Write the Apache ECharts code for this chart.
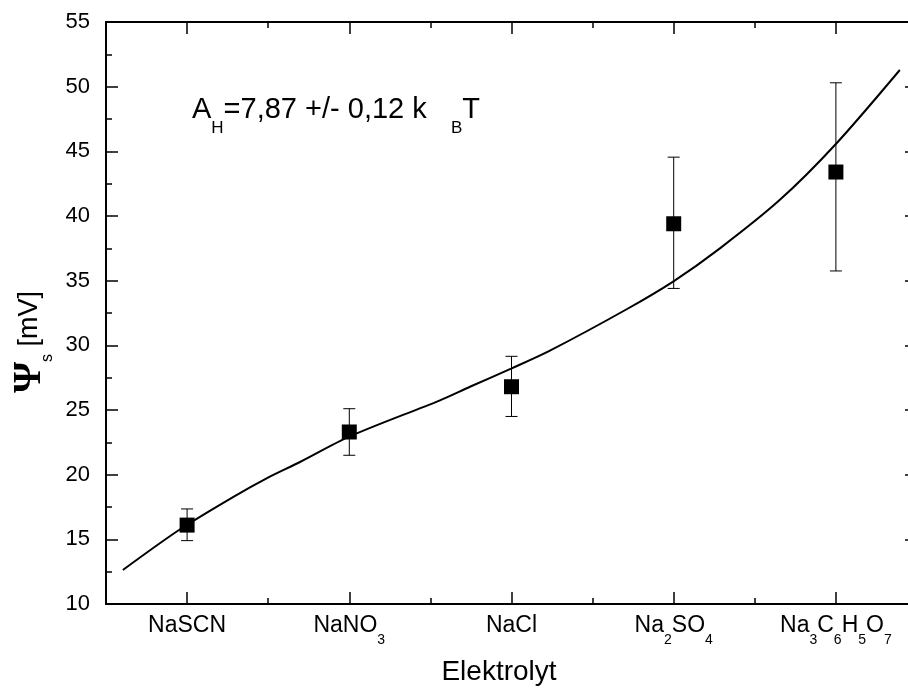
<!DOCTYPE html>
<html>
<head>
<meta charset="utf-8">
<script src="https://cdn.jsdelivr.net/npm/echarts@6/dist/echarts.min.js"></script>
<style>
html,body{margin:0;padding:0;background:#fff;overflow:hidden;width:908px;height:689px;}
#chart{width:920px;height:689px;}
</style>
</head>
<body>
<div id="chart"></div>
<script>
// ---- data ----
var categories = ['NaSCN', 'NaNO3', 'NaCl', 'Na2SO4', 'Na3C6H5O7'];
var categoryLabels = ['{n|NaSCN}', '{n|NaNO}{s|3}', '{n|NaCl}', '{n|Na}{s|2}{n|SO}{s|4}', '{n|Na}{s|3}{n|C}{s|6}{n|H}{s|5}{n|O}{s|7}'];
var categoryPos = [1, 2, 3, 4, 5];
var psiValues = [16.1, 23.3, 26.8, 39.4, 43.4];
var errLow = [14.9, 21.5, 24.5, 34.4, 35.75];
var errHigh = [17.35, 25.1, 29.15, 44.55, 50.3];
var fitX = [0.604, 0.957, 1.283, 1.493, 1.696, 2.0, 2.559, 2.744, 3.001, 3.237, 3.710, 4.001, 4.285, 4.653, 4.997, 5.394];
var fitY = [12.63, 15.78, 18.27, 19.74, 20.98, 22.94, 25.75, 26.80, 28.22, 29.59, 32.79, 34.97, 37.50, 41.23, 45.53, 51.29];
var yTicks = {min: 10, max: 55, step: 5};

var FONT = '"Liberation Sans", Arial, sans-serif';
var chart = echarts.init(document.getElementById('chart'), null, {renderer: 'canvas'});

var fitData = fitX.map(function (x, i) { return [x, fitY[i]]; });
var pointData = categoryPos.map(function (x, i) { return [x, psiValues[i]]; });
var errData = categoryPos.map(function (x, i) { return [x, errLow[i], errHigh[i]]; });

var labelRich = {
  n: {fontFamily: FONT, fontSize: 23, color: '#000', lineHeight: 26, verticalAlign: 'top'},
  s: {fontFamily: FONT, fontSize: 14, color: '#000', lineHeight: 14, verticalAlign: 'top', padding: [19, 0, 0, 0]}
};

var axisLineStyle = {color: '#000', width: 2};
var tickStyle = {color: '#000', width: 1.5};

function catAxis(pos, showLabel) {
  return {
    type: 'category', position: pos, data: categories, boundaryGap: true,
    axisLine: {show: true, lineStyle: axisLineStyle},
    axisTick: {show: true, alignWithLabel: true, inside: true, length: 12, interval: 0, lineStyle: tickStyle},
    axisLabel: {show: showLabel, interval: 0, hideOverlap: false, margin: 10,
      formatter: function (v, i) { return categoryLabels[i]; }, rich: labelRich},
    splitLine: {show: false}
  };
}
function valXAxis(pos) {
  return {
    type: 'value', position: pos, min: 0.5, max: 5.5, interval: 0.5,
    axisLine: {show: false},
    axisTick: {show: true, inside: true, length: 6, lineStyle: tickStyle},
    axisLabel: {show: false}, splitLine: {show: false}
  };
}
function yAx(pos, showLabel) {
  return {
    type: 'value', position: pos, min: yTicks.min, max: yTicks.max, interval: yTicks.step,
    axisLine: {show: true, lineStyle: axisLineStyle},
    axisTick: {show: true, inside: true, length: 12, lineStyle: tickStyle},
    minorTick: {show: true, splitNumber: 2, length: 6, lineStyle: tickStyle},
    axisLabel: {show: showLabel, margin: 16, fontFamily: FONT, fontSize: 22, color: '#000'},
    splitLine: {show: false}, minorSplitLine: {show: false}
  };
}

chart.setOption({
  animation: false,
  backgroundColor: '#fff',
  grid: {left: 106, right: 3, top: 22, bottom: 85, containLabel: false},
  xAxis: [catAxis('bottom', true), catAxis('top', false), valXAxis('bottom'), valXAxis('top')],
  yAxis: [yAx('left', true), yAx('right', false)],
  series: [
    {
      type: 'custom', xAxisIndex: 2, yAxisIndex: 0, data: errData, z: 3,
      renderItem: function (params, api) {
        var x = api.value(0);
        var lo = api.coord([x, api.value(1)]);
        var hi = api.coord([x, api.value(2)]);
        var cw = 6;
        var st = {stroke: '#000', lineWidth: 1};
        return {type: 'group', children: [
          {type: 'line', shape: {x1: lo[0], y1: lo[1], x2: hi[0], y2: hi[1]}, style: st},
          {type: 'line', shape: {x1: lo[0] - cw, y1: lo[1], x2: lo[0] + cw, y2: lo[1]}, style: st},
          {type: 'line', shape: {x1: hi[0] - cw, y1: hi[1], x2: hi[0] + cw, y2: hi[1]}, style: st}
        ]};
      }
    },
    {
      type: 'line', xAxisIndex: 2, yAxisIndex: 0, data: fitData, smooth: 0.3,
      showSymbol: false, symbol: 'none', lineStyle: {color: '#000', width: 2}, z: 4
    },
    {
      type: 'scatter', xAxisIndex: 2, yAxisIndex: 0, data: pointData,
      symbol: 'rect', symbolSize: 15, itemStyle: {color: '#000', opacity: 1}, z: 5
    }
  ],
  graphic: [
    {
      type: 'text', left: 192, top: 95, z: 10,
      style: {
        text: '{n|A}{s|H}{n|=7,87 +/- 0,12 k   }{s|B}{n|T}',
        rich: {
          n: {fontFamily: FONT, fontSize: 29, fill: '#000', lineHeight: 33, verticalAlign: 'top'},
          s: {fontFamily: FONT, fontSize: 17, fill: '#000', lineHeight: 17, verticalAlign: 'top', padding: [25, 0, 0, 0]}
        }
      }
    },
    {
      type: 'text', x: 499, y: 672, z: 10,
      style: {text: 'Elektrolyt', fontFamily: FONT, fontSize: 28, fill: '#000', align: 'center', verticalAlign: 'middle'}
    },
    {
      type: 'text', x: 30, y: 342, rotation: Math.PI / 2, z: 10,
      style: {
        text: '{p|Ψ}{s|s}{n| [mV]}',
        align: 'center', verticalAlign: 'middle',
        rich: {
          p: {fontFamily: '"Liberation Serif", "Times New Roman", serif', fontSize: 40, fontWeight: 'bold', fill: '#000', lineHeight: 40, verticalAlign: 'top'},
          s: {fontFamily: FONT, fontSize: 16, fill: '#000', lineHeight: 16, verticalAlign: 'top', padding: [30, 0, 0, 0]},
          n: {fontFamily: FONT, fontSize: 27, fill: '#000', lineHeight: 30, verticalAlign: 'top', padding: [6, 0, 0, 0]}
        }
      }
    }
  ]
});
</script>
</body>
</html>
